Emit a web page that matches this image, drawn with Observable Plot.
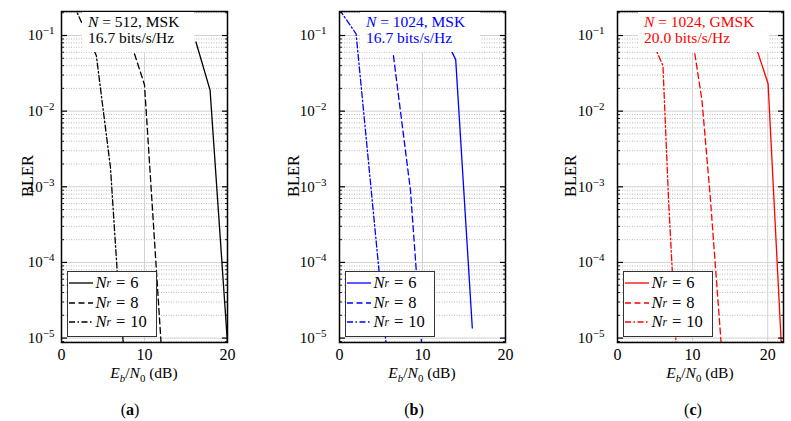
<!DOCTYPE html>
<html><head><meta charset="utf-8">
<script src="https://cdn.jsdelivr.net/npm/d3@7"></script>
<script src="https://cdn.jsdelivr.net/npm/@observablehq/plot@0.6"></script>
<style>
body{margin:0;background:#fff;font-family:"Liberation Serif",serif;}
#root{position:relative;width:791px;height:421px;overflow:hidden;background:#fff}
.panel{position:absolute;top:0}
.note{position:absolute;top:12px;height:38px;background:#fff;font-size:15.5px;padding:2px 15px 0 6px;white-space:nowrap}
.note div{height:15.6px;line-height:15.6px;overflow:visible}
.legend{position:absolute;top:270.5px;width:88px;height:62px;background:#fff;border:1.3px solid #333;padding-top:2px}
.row{height:19.6px;display:flex;align-items:center;font-size:16.5px;white-space:nowrap}
.row svg{margin:0 3px 0 1px;flex:none}
.eq{padding:0 5px}
.xl{position:absolute;top:364px;font-size:15.5px;transform:translateX(-50%);white-space:nowrap}
.yl{position:absolute;top:176px;font-size:16.5px;transform:translate(-50%,-50%) rotate(-90deg);white-space:nowrap}
.cap{position:absolute;top:401px;font-size:16px;transform:translateX(-50%)}
sub{font-size:70%;vertical-align:-4px;line-height:0}
</style></head>
<body><div id="root"></div>
<script>
// ---- data ----
const nrLabels = ["6", "8", "10"];
// panel (a): N = 512, MSK
const snrA6 = [16.2, 17.9, 20.0];
const blerA6 = [0.082, 0.019, 8.5e-6];
const snrA8 = [8.8, 10.0, 12.0];
const blerA8 = [0.057, 0.0223, 8.5e-6];
const snrA10 = [1.5, 4.2, 5.9, 6.8, 7.45];
const blerA10 = [0.25, 0.054, 1.8e-3, 5.4e-5, 8.5e-6];
// panel (b): N = 1024, MSK
const snrB6 = [10.1, 13.6, 14.0, 16.0];
const blerB6 = [0.21, 0.059, 0.048, 1.36e-5];
const snrB8 = [6.5, 8.55, 9.9];
const blerB8 = [0.054, 9e-4, 8e-6];
const snrB10 = [0, 2.0, 5.6];
const blerB10 = [0.22, 0.105, 8.7e-6];
// panel (c): N = 1024, GMSK
const snrC6 = [14.4, 18.7, 20.05, 21.8];
const blerC6 = [0.21, 0.059, 0.023, 8.5e-6];
const snrC8 = [7.5, 10.3, 11.25, 12.35, 13.8];
const blerC8 = [0.21, 0.057, 0.0138, 7.3e-4, 8.5e-6];
const snrC10 = [2.9, 5.47, 6.05, 6.8, 7.8];
const blerC10 = [0.22, 0.054, 0.040, 6.6e-4, 8.5e-6];
// ticks
const xTicks = [0, 10, 20];
const yMajor = [1e-5, 1e-4, 1e-3, 1e-2, 1e-1];
const yDomain = [8.74e-6, 0.2077];
const yMinor = [];
for (const d of [1e-6, 1e-5, 1e-4, 1e-3, 1e-2, 1e-1]) for (let k = 2; k <= 9; k++) {
  const v = d * k; if (v > yDomain[0] && v < yDomain[1]) yMinor.push(v);
}
const dashes = [null, "6,3.5", "6,2.5,1.5,2.5"];

const panels = [
  {key: "a", left: 0, width: 278, mr: 51, xMax: 20, xGrid: [10], color: "#000", tp: 7, bler: 27.5, cap: 130,
   n: "512", mod: "MSK", eff: "16.7",
   series: [[snrA6, blerA6], [snrA8, blerA8], [snrA10, blerA10]]},
  {key: "b", left: 278, width: 278, mr: 51, xMax: 20, xGrid: [10], color: "#0000ff", tp: 13, bler: 294, cap: 414,
   n: "1024", mod: "MSK", eff: "16.7",
   series: [[snrB6, blerB6], [snrB8, blerB8], [snrB10, blerB10]]},
  {key: "c", left: 556, width: 235, mr: 8, xMax: 22.1, xGrid: [10, 20], color: "#ff0000", tp: 13, bler: 571, cap: 693,
   n: "1024", mod: "GMSK", eff: "20.0",
   series: [[snrC6, blerC6], [snrC8, blerC8], [snrC10, blerC10]]}
];

const root = document.getElementById("root");
const ML = 61;

for (const p of panels) {
  const lines = p.series.map(([xs, ys], i) =>
    Plot.line(ys, {x: xs, y: ys, stroke: p.color, strokeWidth: 1.3, strokeDasharray: dashes[i], clip: true}));
  const plot = Plot.plot({
    width: p.width, height: 390,
    marginLeft: ML, marginRight: p.mr, marginTop: 11, marginBottom: 48,
    style: {fontFamily: "'Liberation Serif', serif", fontSize: "15px", background: "transparent", color: "black", overflow: "visible"},
    x: {domain: [0, p.xMax]},
    y: {type: "log", domain: yDomain},
    marks: [
      Plot.ruleY(yMinor, {stroke: "#b0b0b0", strokeWidth: 0.9, strokeDasharray: "1,1.5"}),
      Plot.ruleY(yMajor, {stroke: "#d2d2d2", strokeWidth: 1}),
      Plot.ruleX(p.xGrid, {stroke: "#d2d2d2", strokeWidth: 1}),
      ...lines,
      Plot.axisY({anchor: "left", ticks: yMajor, tickSize: 0, tickPadding: p.tp, label: null, fontSize: "15px",
        tickFormat: d => "10^" + Math.round(Math.log10(d))}),
      Plot.axisY({anchor: "left", ticks: yMajor, tickSize: -6, label: null, tickFormat: () => "", strokeWidth: 1.2}),
      Plot.axisY({anchor: "right", ticks: yMajor, tickSize: -6, label: null, tickFormat: () => "", strokeWidth: 1.2}),
      Plot.axisY({anchor: "left", ticks: yMinor, tickSize: -3, label: null, tickFormat: () => "", strokeWidth: 0.9}),
      Plot.axisY({anchor: "right", ticks: yMinor, tickSize: -3, label: null, tickFormat: () => "", strokeWidth: 0.9}),
      Plot.axisX({anchor: "bottom", ticks: xTicks, tickSize: 0, tickPadding: 6, label: null, fontSize: "16px"}),
      Plot.frame({stroke: "black", strokeWidth: 1.5})
    ]
  });
  // superscript exponents for the y tick labels
  plot.querySelectorAll("text").forEach(t => {
    const s = t.textContent;
    if (s.startsWith("10^")) {
      const e = s.slice(3).replace("-", "\u2212");
      t.textContent = "";
      const a = document.createElementNS("http://www.w3.org/2000/svg", "tspan");
      a.textContent = "10";
      const b = document.createElementNS("http://www.w3.org/2000/svg", "tspan");
      b.textContent = e; b.setAttribute("dy", "-6"); b.setAttribute("font-size", "11px");
      t.appendChild(a); t.appendChild(b);
    }
  });
  const wrap = document.createElement("div");
  wrap.className = "panel";
  wrap.style.left = p.left + "px";
  wrap.appendChild(plot);
  root.appendChild(wrap);

  const fl = p.left + ML;
  const fr = p.left + p.width - p.mr;
  // annotation box
  const note = document.createElement("div");
  note.className = "note";
  note.style.left = (fl + 21) + "px";
  note.style.color = p.color;
  note.innerHTML = `<div><i>N</i> = ${p.n}, ${p.mod}</div><div>${p.eff} bits/s/Hz</div>`;
  root.appendChild(note);
  // legend
  const lg = document.createElement("div");
  lg.className = "legend";
  lg.style.left = (fl + 5.5) + "px";
  lg.innerHTML = nrLabels.map((n, i) =>
    `<div class="row"><svg width="24" height="10"><line x1="0" y1="5" x2="24" y2="5" stroke="${p.color}" stroke-width="1.3" ${dashes[i] ? `stroke-dasharray="${dashes[i]}"` : ""}/></svg><i>N</i><sub><i>r</i></sub><span class="eq">=</span>${n}</div>`
  ).join("");
  root.appendChild(lg);
  // axis titles and caption
  const xl = document.createElement("div");
  xl.className = "xl";
  xl.style.left = ((fl + fr) / 2) + "px";
  xl.innerHTML = `<i>E</i><sub><i>b</i></sub>/<i>N</i><sub>0</sub> (dB)`;
  root.appendChild(xl);
  const yl = document.createElement("div");
  yl.className = "yl";
  yl.style.left = p.bler + "px";
  yl.textContent = "BLER";
  root.appendChild(yl);
  const cap = document.createElement("div");
  cap.className = "cap";
  cap.style.left = p.cap + "px";
  cap.innerHTML = `(<b>${p.key}</b>)`;
  root.appendChild(cap);
}
</script>
</body></html>
